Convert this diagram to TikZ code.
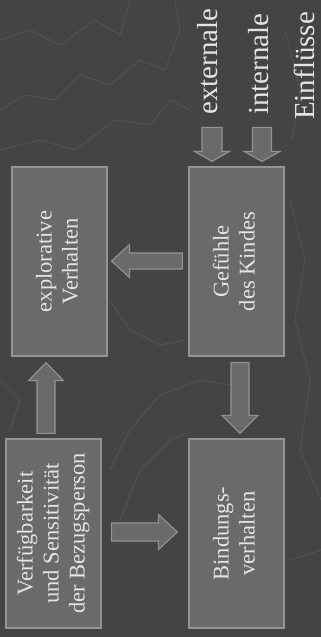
\documentclass[tikz,border=0pt]{standalone}
\usepackage{fontspec}
\setmainfont{Liberation Serif}
\usetikzlibrary{calc}
\definecolor{bg}{RGB}{68,68,68}
\definecolor{boxfill}{RGB}{106,106,106}
\definecolor{boxline}{RGB}{148,148,148}
\definecolor{txt}{RGB}{228,228,228}
\definecolor{contour}{RGB}{86,86,86}
\newcommand\barrow[5]{%
  \coordinate (hb) at ($(#2)!#5!(#1)$);
  \draw[arrowst] ($(#1)!#3!90:(#2)$) -- ($(hb)!#3!90:(#2)$) -- ($(hb)!#4!90:(#2)$) -- (#2)
    -- ($(hb)!#4!-90:(#2)$) -- ($(hb)!#3!-90:(#2)$) -- ($(#1)!#3!-90:(#2)$) -- cycle;}
\begin{document}
\begin{tikzpicture}[x=1pt,y=1pt,
  box/.style={draw=boxline, fill=boxfill, line width=1.2pt, minimum width=95pt,
    minimum height=189pt, inner sep=0pt, text=txt, font=\fontsize{22.5}{26}\selectfont},
  arrowst/.style={draw=boxline, fill=boxfill, line width=1.1pt, line join=miter},
  lab/.style={rotate=90, anchor=base west, inner sep=0pt, text=txt,
    font=\fontsize{29}{33}\selectfont},
  cline/.style={draw=contour, line width=0.7pt}]
\useasboundingbox (0,0) rectangle (321,-637);
\fill[bg] (0,0) rectangle (321,-637);
% background contour texture
\draw[cline] (0,-40) -- (30,-30) -- (60,-45) -- (95,-20) -- (120,-35) -- (130,0);
\draw[cline] (0,-110) -- (25,-95) -- (55,-100) -- (80,-75) -- (110,-85) -- (140,-60) -- (165,-70) -- (180,-30) -- (175,0);
\draw[cline] (0,-150) -- (40,-140) -- (75,-150) -- (115,-120) -- (150,-125) -- (170,-100) -- (190,-110);
\draw[cline] (110,-300) -- (130,-330) -- (160,-345) -- (185,-340);
\draw[cline] (0,-380) -- (20,-400) -- (10,-430);
\draw[cline] (110,-470) -- (130,-430) -- (160,-395) -- (200,-380) -- (230,-385);
\draw[cline] (120,-520) -- (140,-470) -- (170,-440) -- (190,-432);
\draw[cline] (290,-200) -- (305,-260) -- (295,-320) -- (310,-380) -- (300,-450) -- (321,-500);
\draw[cline] (285,-30) -- (300,-90) -- (292,-140);
\draw[cline] (290,-560) -- (321,-550);
% boxes
\node[box] (expl) at (59.5,-261.5) {\rotatebox{90}{\begin{tabular}{@{}c@{}}explorative\\Verhalten\end{tabular}}};
\node[box] (gef) at (236.5,-261.5) {\rotatebox{90}{\begin{tabular}{@{}c@{}}Gefühle\\des Kindes\end{tabular}}};
\node[box] (verf) at (53.5,-533.5) {\rotatebox{90}{\begin{tabular}{@{}c@{}}Verfügbarkeit\\und Sensitivität\\der Bezugsperson\end{tabular}}};
\node[box] (bind) at (236.5,-533.5) {\rotatebox{90}{\begin{tabular}{@{}c@{}}Bindungs-\\verhalten\end{tabular}}};
% labels
\node[lab] (ext) at (217,-115) {externale};
\node[lab] (int) at (268,-115) {internale};
\node[lab] (einf) at (314.5,-120) {Einflüsse};
% arrow end points
\coordinate (extS) at ($(gef.north)+(-24.5,39)$);
\coordinate (extE) at ($(gef.north)+(-24.5,5)$);
\coordinate (intS) at ($(gef.north)+(25.5,39)$);
\coordinate (intE) at ($(gef.north)+(25.5,5)$);
\coordinate (lS) at ($(gef.west)+(-6,0.5)$);
\coordinate (lE) at ($(expl.east)+(4,0.5)$);
\coordinate (uS) at ($(verf.north)+(-7.5,5)$);
\coordinate (uE) at ($(expl.south)+(-13.5,-6)$);
\coordinate (dS) at ($(gef.south)+(3.5,-6)$);
\coordinate (dE) at ($(bind.north)+(3.5,5)$);
\coordinate (rS) at ($(verf.east)+(10,1.5)$);
\coordinate (rE) at ($(bind.west)+(-11,1.5)$);
% arrows
\barrow{extS}{extE}{10pt}{17.5pt}{10pt}
\barrow{intS}{intE}{9.5pt}{18pt}{10pt}
\barrow{lS}{lE}{8pt}{16.5pt}{18pt}
\barrow{uS}{uE}{9pt}{17.5pt}{18pt}
\barrow{dS}{dE}{9pt}{18pt}{18pt}
\barrow{rS}{rE}{9pt}{17.5pt}{19pt}
\end{tikzpicture}
\end{document}
